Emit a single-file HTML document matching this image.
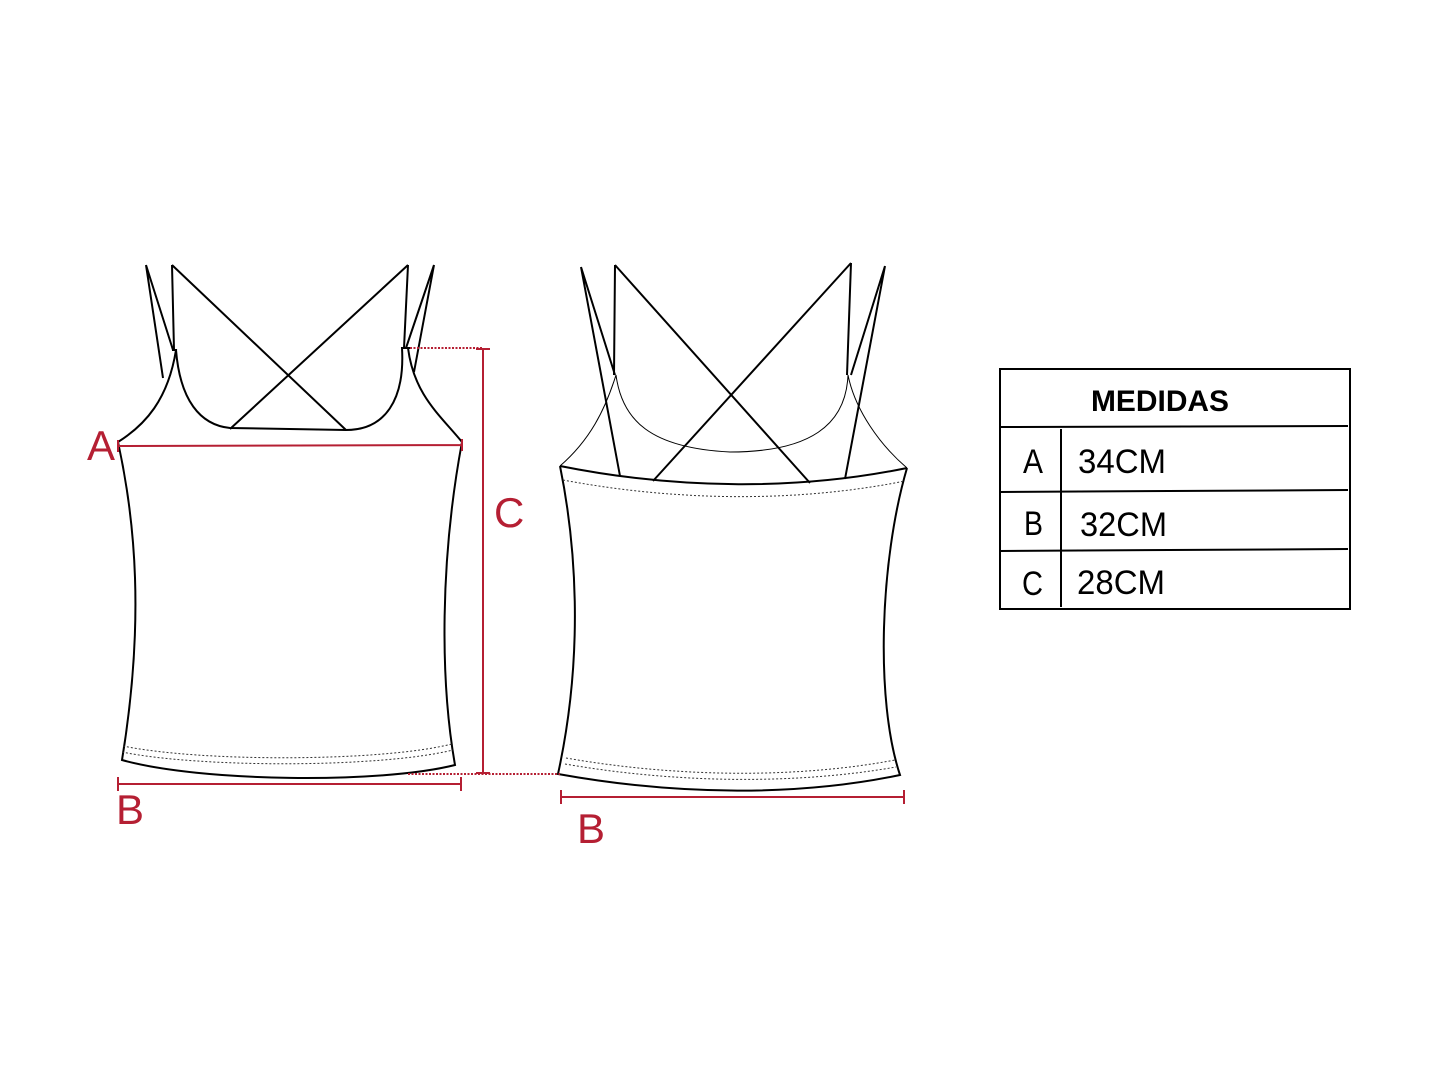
<!DOCTYPE html>
<html><head><meta charset="utf-8"><style>html,body{margin:0;padding:0;background:#fff}svg{display:block}</style></head>
<body>
<svg width="1440" height="1080" viewBox="0 0 1440 1080" xmlns="http://www.w3.org/2000/svg" font-family="Liberation Sans, sans-serif">
<rect width="1440" height="1080" fill="#fff"/>
<!-- LEFT GARMENT -->
<g fill="none" stroke="#000" stroke-width="2">
  <path d="M146,265 L163,378 M146,265 L173,350 M172,265 L174,350 M172,265 L346,430 M408,265 L230,429 M408,265 L404,348 M434,265 L414,372 M434,265 L406,348"/>
  <path d="M118,442 C145,425 168,400 176,350 L172,350"/>
  <path d="M176,350 C180,400 200,425 230,428 L346,430 C385,430 405,400 402,348 L410,348"/>
  <path d="M408,348 C414,395 440,415 462,442"/>
  <path d="M118,442 C135,520 145,620 122,760 C200,782 380,784 455,765 C440,680 440,560 462,442"/>
</g>
<g fill="none" stroke="#333" stroke-width="1" stroke-dasharray="2,2">
  <path d="M123,746 C200,762 380,762 452,744"/>
  <path d="M122,752 C200,768 380,768 453,750"/>
</g>
<!-- RIGHT GARMENT -->
<g fill="none" stroke="#000" stroke-width="1">
  <path d="M560,466 C590,440 605,410 616,375 C622,420 650,448 730,452 C810,452 846,425 848,375 C855,410 880,445 907,468"/>
</g>
<g fill="none" stroke="#000" stroke-width="2">
  <path d="M581,267 L620,476 M581,267 L615,375 M615,265 L614,375 M615,265 L810,483 M851,263 L653,481 M851,263 L847,375 M885,266 L845,479 M885,266 L851,375"/>
  <path d="M560,466 C680,490 800,490 907,468"/>
  <path d="M560,466 C575,540 585,650 558,774 C680,796 800,796 900,775 C875,700 880,560 907,468"/>
</g>
<g fill="none" stroke="#333" stroke-width="1" stroke-dasharray="2,2">
  <path d="M563,480 C680,502 800,502 905,481"/>
  <path d="M566,758 C680,778 800,778 895,760"/>
  <path d="M565,764 C680,784 800,784 896,767"/>
</g>
<!-- RED MEASURES -->
<g stroke="#b51f33" stroke-width="2" fill="none">
  <path d="M118,446 L462,445 M118,440 L118,452 M462,439 L462,451"/>
  <path d="M483,348 L483,774 M476,349 L490,349 M476,773 L490,773"/>
  <path d="M410,348 L483,348 M408,774 L560,774" stroke-dasharray="2,1.5"/>
  <path d="M118,784 L461,784 M118,777 L118,791 M461,777 L461,791"/>
  <path d="M561,797 L904,797 M561,790 L561,804 M904,790 L904,804"/>
</g>
<g fill="#b51f33" font-size="42">
  <text x="87" y="460">A</text>
  <text x="494" y="527">C</text>
  <text x="116" y="824">B</text>
  <text x="577" y="843">B</text>
</g>
<!-- TABLE -->
<g stroke="#000" stroke-width="2" fill="none">
  <rect x="1000" y="369" width="350" height="240"/>
  <path d="M1000,427 L1348,426 M1000,492 L1348,490 M1000,551 L1348,549 M1061,429 L1061,607"/>
</g>
<text x="1160" y="411" text-anchor="middle" font-size="30" font-weight="bold" textLength="138" lengthAdjust="spacingAndGlyphs">MEDIDAS</text>
<g font-size="34">
  <text x="1023" y="473" textLength="20" lengthAdjust="spacingAndGlyphs">A</text>
  <text x="1078" y="473" textLength="88" lengthAdjust="spacingAndGlyphs">34CM</text>
  <text x="1024" y="535" textLength="19" lengthAdjust="spacingAndGlyphs">B</text>
  <text x="1080" y="536" textLength="87" lengthAdjust="spacingAndGlyphs">32CM</text>
  <text x="1022" y="595" textLength="21" lengthAdjust="spacingAndGlyphs">C</text>
  <text x="1077" y="594" textLength="88" lengthAdjust="spacingAndGlyphs">28CM</text>
</g>
</svg>
</body></html>
